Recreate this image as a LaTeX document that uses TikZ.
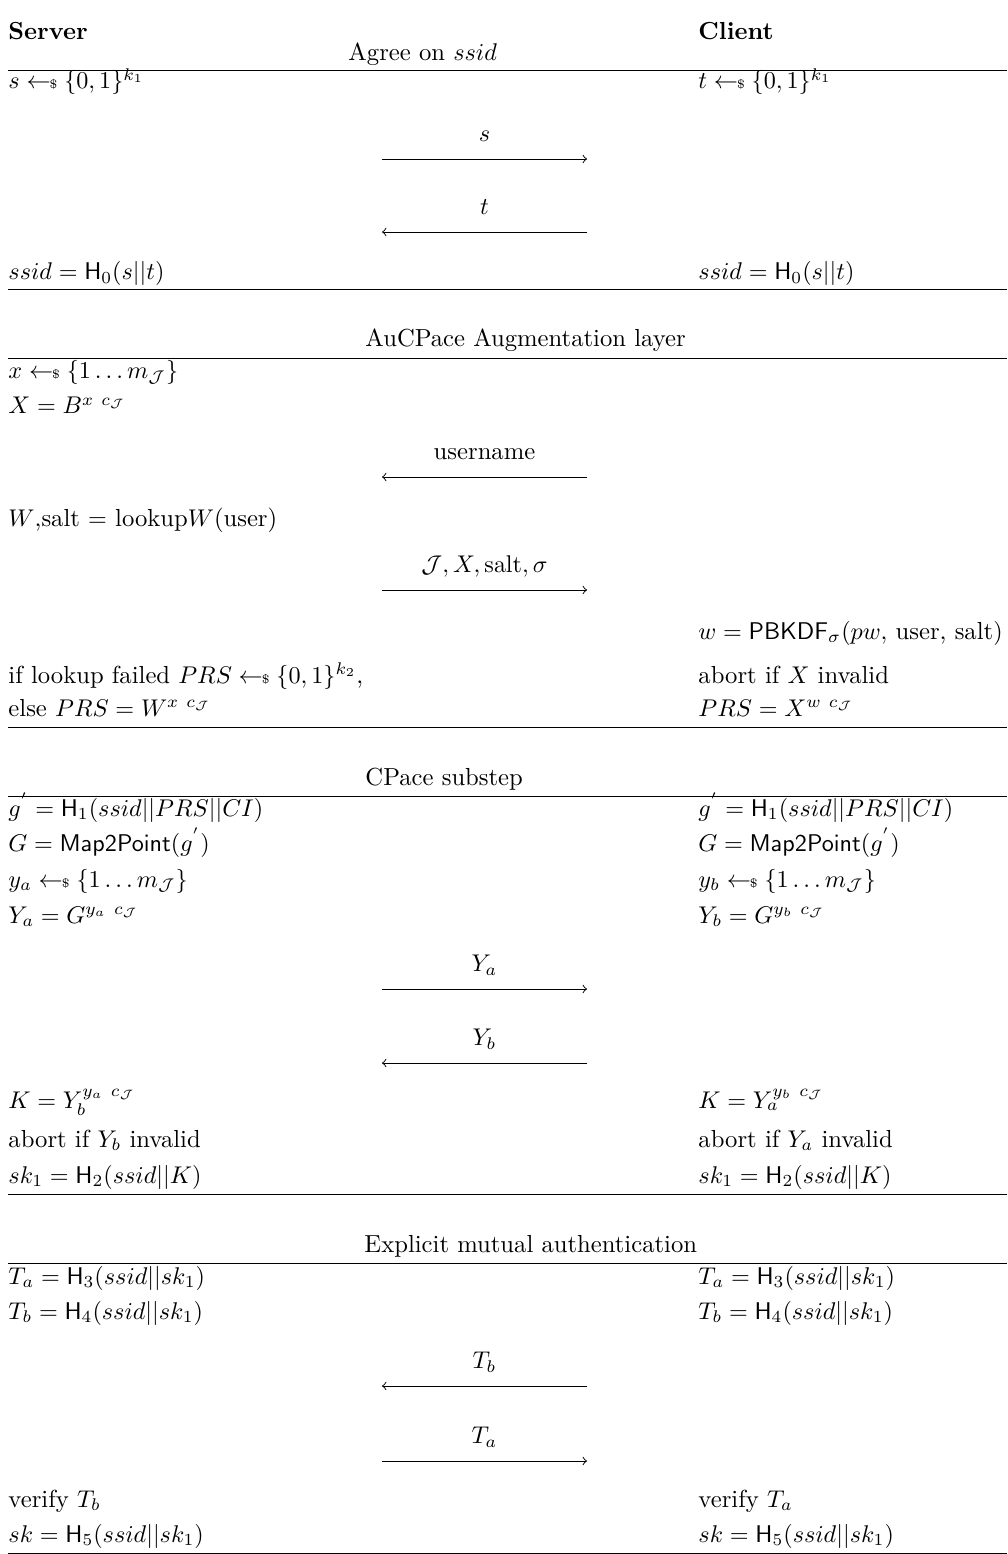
\documentclass[tikz,border=0pt]{standalone}
\usepackage{tikz}

\newcommand{\smpl}{\mathrel{\gets\!\!\mbox{\tiny\$}}}
\newcommand{\cj}{c_{\mathcal{J}}}
\newcommand{\protofont}{\fontsize{10.2}{12}\selectfont}

\tikzset{
	party/.style = {anchor = base west, inner sep = 0pt, font = \protofont\bfseries},
	phase/.style = {anchor = base west, inner sep = 0pt, font = \protofont},
	row/.style = {anchor = base west, inner sep = 0pt, font = \protofont},
	msg/.style = {anchor = base, inner sep = 0pt, yshift = 7.2pt, font = \protofont}
}

\begin{document}
\begin{tikzpicture}[> = to, x = 0.41374pt, y = -0.41374pt]

	\useasboundingbox (0, 0) rectangle (1007, 1554);

	% Parties

	\node [party] (server) at (8, 40) {Server};
	\node [party] (client) at (698, 40) {Client};

	% Rules under the phase titles and phases

	\foreach \y in {70, 289, 358, 727, 796, 1194, 1263, 1553}
		\draw (8, \y) -- (1007, \y);

	% Agree on ssid

	\node [phase] (agree) at (348, 61) {Agree on $ssid$};

	\node [row] (sSmp) at (8, 89) {$s \smpl \{0,1\}^{k_1}$};
	\node [row] (tSmp) at (698, 89) {$t \smpl \{0,1\}^{k_1}$};

	\coordinate (sL) at (382, 159);
	\coordinate (sR) at (587, 159);
	\draw [->] (sL) -- node [msg] (sMsg) {$s$} (sR);

	\coordinate (tL) at (382, 232);
	\coordinate (tR) at (587, 232);
	\draw [->] (tR) -- node [msg] (tMsg) {$t$} (tL);

	\node [row] (ssidS) at (8, 280) {$ssid = \mathsf{H}_0(s||t)$};
	\node [row] (ssidC) at (698, 280) {$ssid = \mathsf{H}_0(s||t)$};

	% AuCPace augmentation layer

	\node [phase] (augment) at (365, 347) {AuCPace Augmentation layer};

	\node [row] (xSmp) at (8, 379) {$x \smpl \{1 \ldots m_{\mathcal{J}}\}$};
	\node [row] (bigX) at (8, 414) {$X = B^{x\ \cj}$};

	\coordinate (uL) at (382, 477);
	\coordinate (uR) at (587, 477);
	\draw [->] (uR) -- node [msg] (uMsg) {username} (uL);

	\node [row] (lookup) at (8, 526) {$W$,salt $=$ lookup$W$(user)};

	\coordinate (jL) at (382, 590);
	\coordinate (jR) at (587, 590);
	\draw [->] (jL) -- node [msg] (jMsg) {$\mathcal{J}, X, \mathrm{salt}, \sigma$} (jR);

	\node [row] (pbkdf) at (698, 639) {$w = \mathsf{PBKDF}_{\sigma}(pw,$ user, salt$)$};

	\node [row] (failS) at (8, 683) {if lookup failed $PRS \smpl \{0,1\}^{k_2}$,};
	\node [row] (abortX) at (698, 683) {abort if $X$ invalid};
	\node [row] (prsS) at (8, 716) {else $PRS = W^{x\ \cj}$};
	\node [row] (prsC) at (698, 716) {$PRS = X^{w\ \cj}$};

	% CPace substep

	\node [phase] (cpace) at (365, 785) {CPace substep};

	\node [row] (gS) at (8, 816) {$g^{'} = \mathsf{H}_1(ssid||PRS||CI)$};
	\node [row] (gC) at (698, 816) {$g^{'} = \mathsf{H}_1(ssid||PRS||CI)$};
	\node [row] (mapS) at (8, 851) {$G = \mathsf{Map2Point}(g^{'})$};
	\node [row] (mapC) at (698, 851) {$G = \mathsf{Map2Point}(g^{'})$};
	\node [row] (yaSmp) at (8, 887) {$y_a \smpl \{1 \ldots m_{\mathcal{J}}\}$};
	\node [row] (ybSmp) at (698, 887) {$y_b \smpl \{1 \ldots m_{\mathcal{J}}\}$};
	\node [row] (bigYa) at (8, 923) {$Y_a = G^{y_a\ \cj}$};
	\node [row] (bigYb) at (698, 923) {$Y_b = G^{y_b\ \cj}$};

	\coordinate (yaL) at (382, 989);
	\coordinate (yaR) at (587, 989);
	\draw [->] (yaL) -- node [msg] (yaMsg) {$Y_a$} (yaR);

	\coordinate (ybL) at (382, 1063);
	\coordinate (ybR) at (587, 1063);
	\draw [->] (ybR) -- node [msg] (ybMsg) {$Y_b$} (ybL);

	\node [row] (kS) at (8, 1108) {$K = Y_b^{y_a\ \cj}$};
	\node [row] (kC) at (698, 1108) {$K = Y_a^{y_b\ \cj}$};
	\node [row] (abortYb) at (8, 1147) {abort if $Y_b$ invalid};
	\node [row] (abortYa) at (698, 1147) {abort if $Y_a$ invalid};
	\node [row] (skoneS) at (8, 1183) {$sk_1 = \mathsf{H}_2(ssid||K)$};
	\node [row] (skoneC) at (698, 1183) {$sk_1 = \mathsf{H}_2(ssid||K)$};

	% Explicit mutual authentication

	\node [phase] (explicit) at (364, 1252) {Explicit mutual authentication};

	\node [row] (taS) at (8, 1284) {$T_a = \mathsf{H}_3(ssid||sk_1)$};
	\node [row] (taC) at (698, 1284) {$T_a = \mathsf{H}_3(ssid||sk_1)$};
	\node [row] (tbS) at (8, 1319) {$T_b = \mathsf{H}_4(ssid||sk_1)$};
	\node [row] (tbC) at (698, 1319) {$T_b = \mathsf{H}_4(ssid||sk_1)$};

	\coordinate (tbL) at (382, 1386);
	\coordinate (tbR) at (587, 1386);
	\draw [->] (tbR) -- node [msg] (tbMsg) {$T_b$} (tbL);

	\coordinate (taL) at (382, 1461);
	\coordinate (taR) at (587, 1461);
	\draw [->] (taL) -- node [msg] (taMsg) {$T_a$} (taR);

	\node [row] (verS) at (8, 1507) {verify $T_b$};
	\node [row] (verC) at (698, 1507) {verify $T_a$};
	\node [row] (skS) at (8, 1542) {$sk = \mathsf{H}_5(ssid||sk_1)$};
	\node [row] (skC) at (698, 1542) {$sk = \mathsf{H}_5(ssid||sk_1)$};

\end{tikzpicture}
\end{document}
